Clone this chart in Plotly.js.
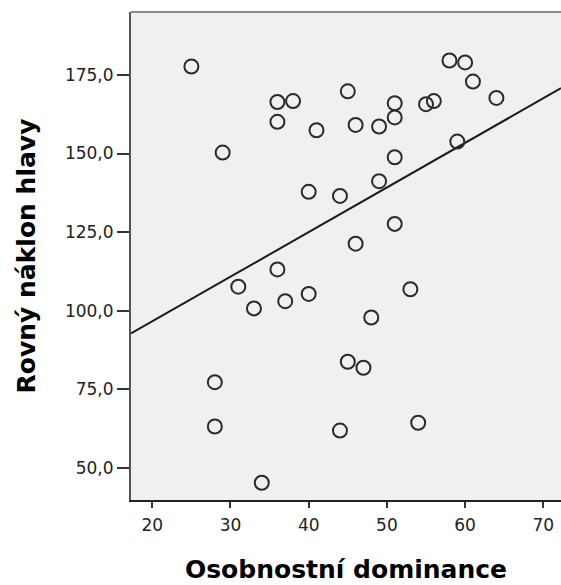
<!DOCTYPE html>
<html>
<head>
<meta charset="utf-8">
<script src="https://cdn.plot.ly/plotly-3.0.1.min.js"></script>
<style>html,body{margin:0;padding:0;background:#fff;}#chart{width:561px;height:585px;}</style>
</head>
<body>
<div id="chart"></div>
<script>
// Osobnostní dominance (x) vs. Rovný náklon hlavy (y)
const dominance = [25, 29, 36, 38, 36, 41, 40, 44, 45, 46, 49, 51, 51, 55, 56, 58, 60, 61, 64, 59,
                   51, 49, 36, 31, 33, 37, 40, 51, 46, 53, 48, 28, 28, 34, 44, 45, 47, 54];
const naklon    = [177.7, 150.3, 166.4, 166.7, 160.1, 157.4, 137.8, 136.5, 169.8, 159.1, 158.6, 166.0, 161.5, 165.7, 166.7, 179.6, 179.0, 172.9, 167.7, 153.8,
                   148.8, 141.2, 113.1, 107.6, 100.7, 103.0, 105.3, 127.6, 121.3, 106.8, 97.8, 77.2, 63.1, 45.2, 61.8, 83.7, 81.8, 64.3];
const xTicks = [20, 30, 40, 50, 60, 70];
const yTicks = [50, 75, 100, 125, 150, 175];
const xRange = [17.28, 72.26];
const yRange = [39.7, 195.05];

// least-squares fit line
const n = dominance.length;
const mx = dominance.reduce((a, b) => a + b, 0) / n;
const my = naklon.reduce((a, b) => a + b, 0) / n;
let sxy = 0, sxx = 0;
for (let i = 0; i < n; i++) { sxy += (dominance[i] - mx) * (naklon[i] - my); sxx += (dominance[i] - mx) ** 2; }
const slope = sxy / sxx;
const intercept = my - slope * mx;
const fitX = xRange.slice();
const fitY = fitX.map(v => intercept + slope * v);

const traces = [
  {
    x: fitX, y: fitY, mode: 'lines', type: 'scatter',
    line: {color: '#1a1a1a', width: 2}, hoverinfo: 'skip', showlegend: false
  },
  {
    x: dominance, y: naklon, mode: 'markers', type: 'scatter',
    marker: {symbol: 'circle-open', size: 14, color: '#2a2a2a', line: {width: 2, color: '#2a2a2a'}},
    showlegend: false
  }
];

const tickFont = {family: 'DejaVu Sans, Verdana, sans-serif', size: 17, color: '#222'};
const titleFont = {family: 'DejaVu Sans, Verdana, sans-serif', size: 25, color: '#000', weight: 'bold'};

const layout = {
  width: 561, height: 585,
  margin: {l: 131, r: 0, t: 12, b: 85},
  paper_bgcolor: '#ffffff',
  plot_bgcolor: '#f0f0f0',
  separators: ', ',
  showlegend: false,
  xaxis: {
    range: xRange, tickvals: xTicks, ticktext: xTicks.map(String),
    showgrid: false, zeroline: false,
    showline: true, linecolor: '#222', linewidth: 2,
    ticks: 'outside', ticklen: 6, tickwidth: 2, tickcolor: '#333',
    ticklabelstandoff: 3,
    tickfont: tickFont,
    title: {text: '<b>Osobnostní dominance</b>', font: titleFont, standoff: 26}
  },
  yaxis: {
    range: yRange, tickvals: yTicks, ticktext: yTicks.map(v => v.toFixed(1).replace('.', ',')),
    showgrid: false, zeroline: false,
    showline: true, linecolor: '#555', linewidth: 2,
    ticks: 'outside', ticklen: 12, tickwidth: 2, tickcolor: '#333',
    tickfont: tickFont,
    title: {text: '<b>Rovný náklon hlavy</b>', font: titleFont, standoff: 22}
  },
  shapes: [
    {type: 'line', xref: 'paper', yref: 'paper', x0: 0, x1: 1, y0: 1, y1: 1,
     line: {color: '#8a8a8a', width: 2}}
  ]
};

Plotly.newPlot('chart', traces, layout, {displayModeBar: false, staticPlot: true});
</script>
</body>
</html>
